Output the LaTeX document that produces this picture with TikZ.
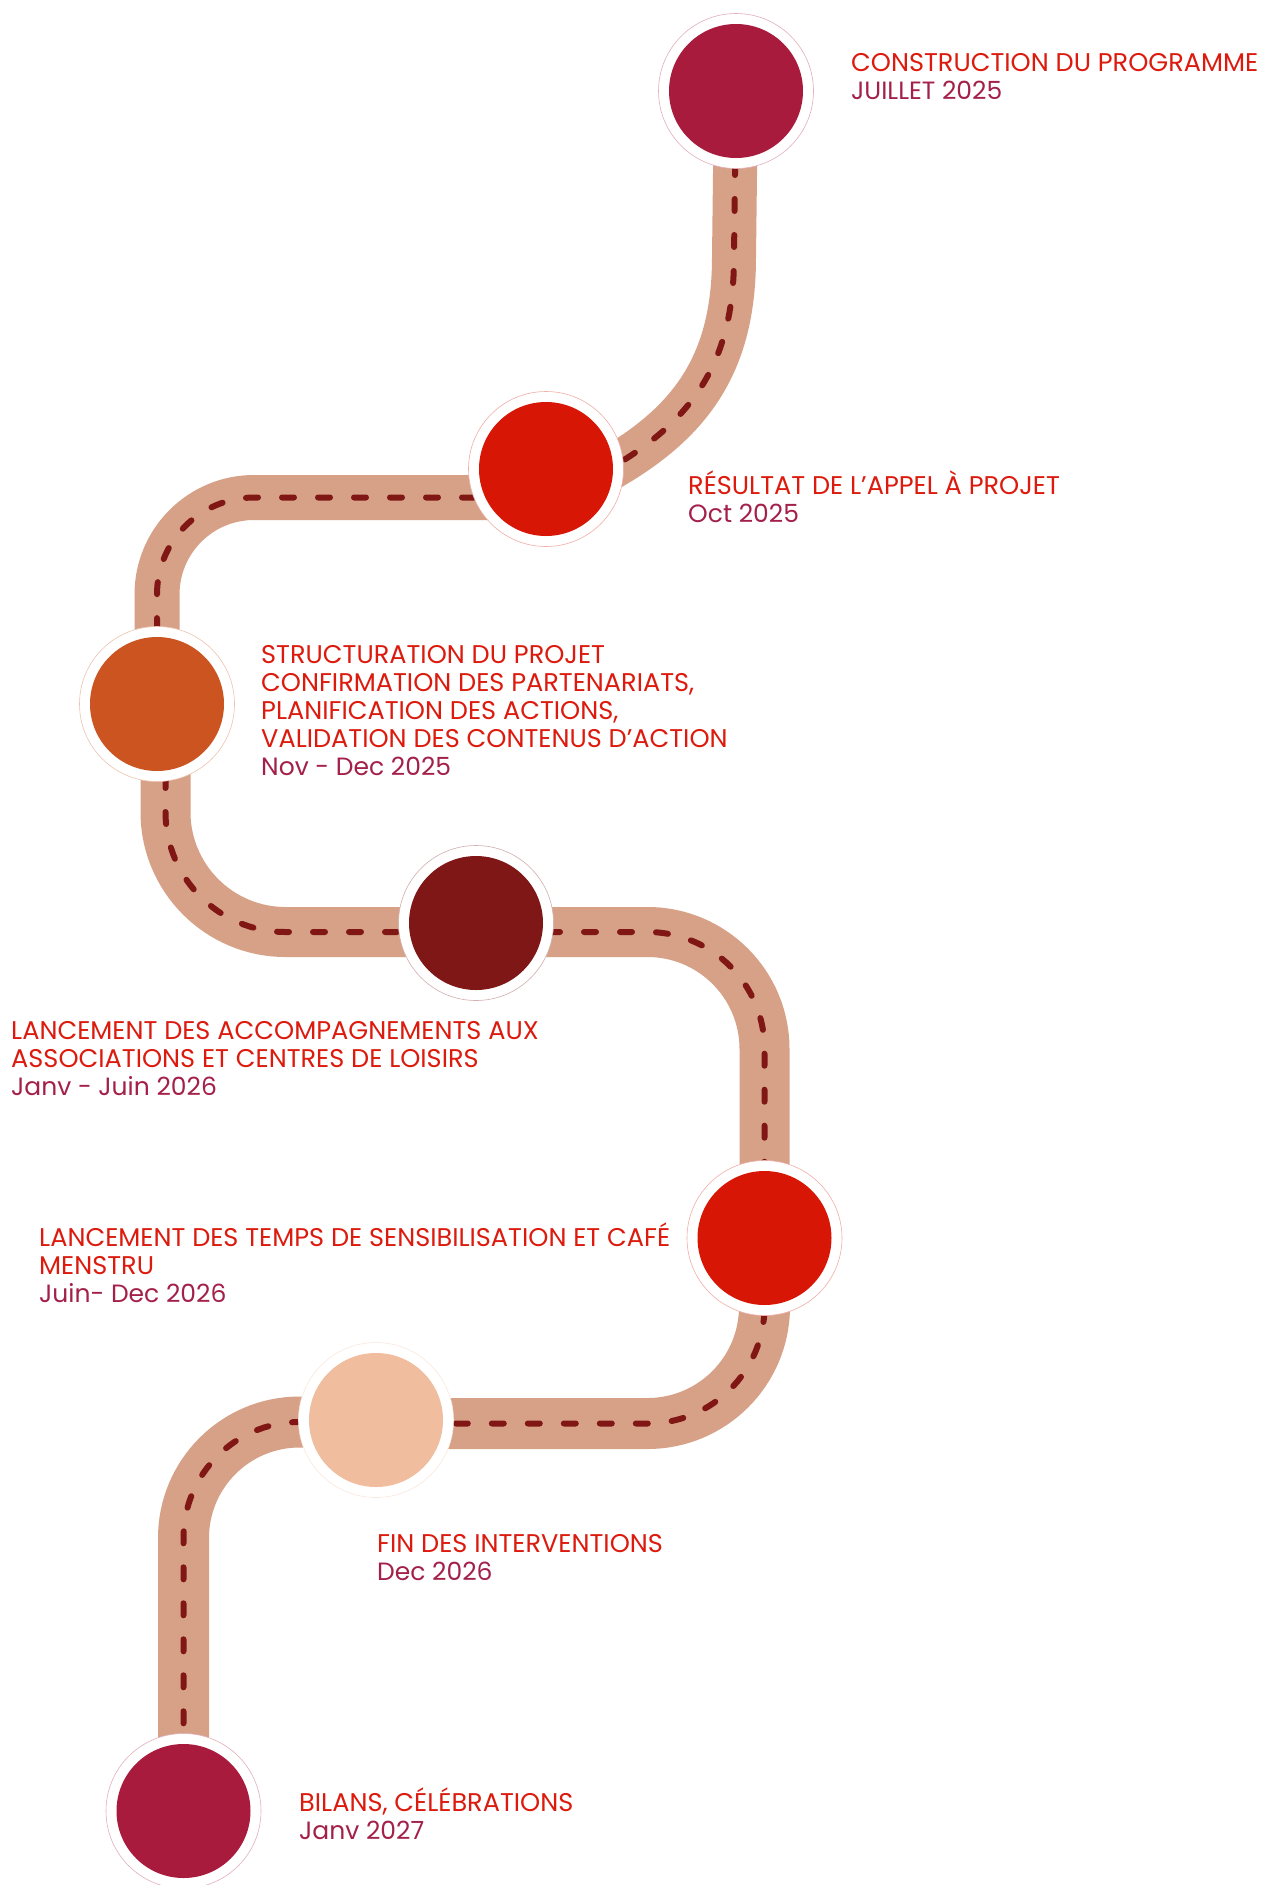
\documentclass[tikz,border=0pt]{standalone}
\usepackage{fontspec}
\setmainfont{Poppins}
\usetikzlibrary{backgrounds}
\definecolor{crim}{HTML}{A91B3D}
\definecolor{redc}{HTML}{D81605}
\definecolor{orng}{HTML}{CB5420}
\definecolor{dkred}{HTML}{7F1716}
\definecolor{peach}{HTML}{F0BE9F}
\definecolor{roadc}{HTML}{D6A187}
\definecolor{dashc}{HTML}{811714}
\definecolor{ttl}{HTML}{DC1B0E}
\definecolor{dat}{HTML}{A3204A}
\newcommand\dateline[1]{\hbox{\fontsize{25}{28}\selectfont\color{dat}#1}}
\tikzset{
  ring/.style={circle, minimum size=155pt, inner sep=0pt, fill=white, draw=#1!35, line width=0.6pt,
    path picture={\fill[#1] (path picture bounding box.center) circle[radius=67pt];}},
  roadway/.style={draw=dashc, line width=6pt, line cap=round, dash pattern=on 12pt off 24pt,
    preaction={draw=roadc, solid, line cap=butt, line width=#1}},
  lbl/.style={anchor=base west, inner sep=0pt, font=\fontsize{25.6}{28}\selectfont, text=ttl},
}
\begin{document}
\begin{tikzpicture}[x=1pt,y=-1pt]
\useasboundingbox (0,0) rectangle (1263,1885);
% milestones
\node[ring=crim]  (c1) at (736,91) {};
\node[ring=redc]  (c2) at (546,469) {};
\node[ring=orng]  (c3) at (157,704) {};
\node[ring=dkred] (c4) at (476,923) {};
\node[ring=redc]  (c5) at (764.5,1238) {};
\node[ring=peach] (c6) at (376,1420) {};
\node[ring=crim]  (c7) at (183.5,1811) {};
\coordinate (c2in) at (548,500);
% roads
\begin{pgfonlayer}{background}
\fill[white] (0,0) rectangle (1263,1885);
\path[roadway=44pt] (c1.center) -- (734,257) .. controls (734,365) and (690,425) .. (600,474) -- (c2in);
\path[roadway=45pt, rounded corners=97pt] ([yshift=-28.5pt]c2.center) -| (c3.center);
\path[roadway=50pt, rounded corners=120pt] ([xshift=8.5pt]c3.center) |- ([yshift=-9pt]c4.center);
\path[roadway=50pt, rounded corners=117pt] ([yshift=-9pt]c4.center) -| (c5.center);
\path[roadway=51pt, rounded corners=117pt] (c5.center) |- ([yshift=-3.5pt]c6.center);
\path[roadway=51pt, rounded corners=116pt] ([yshift=-2pt]c6.center) -| (c7.center);
\end{pgfonlayer}
% labels
\node[lbl] (t1) at (851,71) {\vtop{\hbox{CONSTRUCTION DU PROGRAMME}\dateline{JUILLET 2025}}};
\node[lbl] (t2) at (688,494) {\vtop{\hbox{RÉSULTAT DE L’APPEL À PROJET}\dateline{Oct 2025}}};
\node[lbl] (t3) at (261,663) {\vtop{\hbox{STRUCTURATION DU PROJET}\hbox{CONFIRMATION DES PARTENARIATS,}\hbox{PLANIFICATION DES ACTIONS,}\hbox{VALIDATION DES CONTENUS D’ACTION}\dateline{Nov - Dec 2025}}};
\node[lbl] (t4) at (11,1039) {\vtop{\hbox{LANCEMENT DES ACCOMPAGNEMENTS AUX}\hbox{ASSOCIATIONS ET CENTRES DE LOISIRS}\dateline{Janv - Juin 2026}}};
\node[lbl] (t5) at (39,1246) {\vtop{\hbox{LANCEMENT DES TEMPS DE SENSIBILISATION ET CAFÉ}\hbox{MENSTRU}\dateline{Juin- Dec 2026}}};
\node[lbl] (t6) at (377,1552) {\vtop{\hbox{FIN DES INTERVENTIONS}\dateline{Dec 2026}}};
\node[lbl] (t7) at (299,1811) {\vtop{\hbox{BILANS, CÉLÉBRATIONS}\dateline{Janv 2027}}};
\end{tikzpicture}
\end{document}
